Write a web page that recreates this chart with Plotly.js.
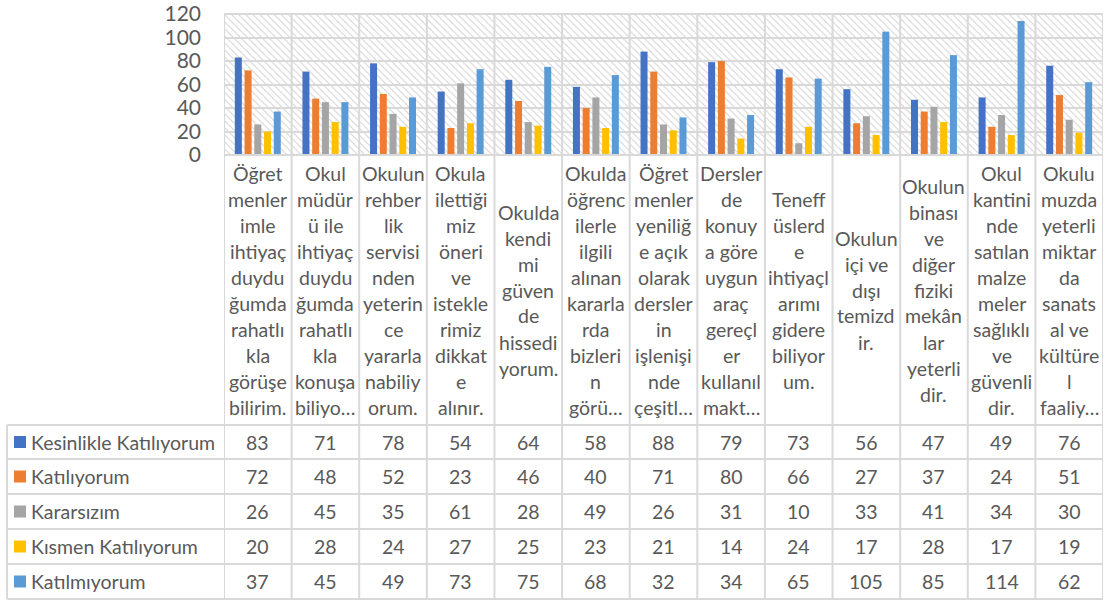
<!DOCTYPE html>
<html><head><meta charset="utf-8">
<script src="https://cdn.plot.ly/plotly-3.0.1.min.js"></script>
<style>html,body{margin:0;padding:0;background:#fff;overflow:hidden}</style>
</head><body><div id="chart" style="width:1114px;height:605px"></div>
<script>
// ---- data ----
const categories = [
  "Öğret<br>menler<br>imle<br>ihtiyaç<br>duydu<br>ğumda<br>rahatlı<br>kla<br>görüşe<br>bilirim.",
  "Okul<br>müdür<br>ü ile<br>ihtiyaç<br>duydu<br>ğumda<br>rahatlı<br>kla<br>konuşa<br>biliyo…",
  "Okulun<br>rehber<br>lik<br>servisi<br>nden<br>yeterin<br>ce<br>yararla<br>nabiliy<br>orum.",
  "Okula<br>ilettiği<br>miz<br>öneri<br>ve<br>istekle<br>rimiz<br>dikkat<br>e<br>alınır.",
  "Okulda<br>kendi<br>mi<br>güven<br>de<br>hissedi<br>yorum.",
  "Okulda<br>öğrenc<br>ilerle<br>ilgili<br>alınan<br>kararla<br>rda<br>bizleri<br>n<br>görü…",
  "Öğret<br>menler<br>yeniliğ<br>e açık<br>olarak<br>dersler<br>in<br>işlenişi<br>nde<br>çeşitl…",
  "Dersler<br>de<br>konuy<br>a göre<br>uygun<br>araç<br>gereçl<br>er<br>kullanıl<br>makt…",
  "Teneff<br>üslerd<br>e<br>ihtiyaçl<br>arımı<br>gidere<br>biliyor<br>um.",
  "Okulun<br>içi ve<br>dışı<br>temizd<br>ir.",
  "Okulun<br>binası<br>ve<br>diğer<br>fiziki<br>mekân<br>lar<br>yeterli<br>dir.",
  "Okul<br>kantini<br>nde<br>satılan<br>malze<br>meler<br>sağlıklı<br>ve<br>güvenli<br>dir.",
  "Okulu<br>muzda<br>yeterli<br>miktar<br>da<br>sanats<br>al ve<br>kültüre<br>l<br>faaliy…"
];
const seriesNames = ["Kesinlikle Katılıyorum", "Katılıyorum", "Kararsızım", "Kısmen Katılıyorum", "Katılmıyorum"];
const kesinlikleKatiliyorum = [83, 71, 78, 54, 64, 58, 88, 79, 73, 56, 47, 49, 76];
const katiliyorum          = [72, 48, 52, 23, 46, 40, 71, 80, 66, 27, 37, 24, 51];
const kararsizim           = [26, 45, 35, 61, 28, 49, 26, 31, 10, 33, 41, 34, 30];
const kismenKatiliyorum    = [20, 28, 24, 27, 25, 23, 21, 14, 24, 17, 28, 17, 19];
const katilmiyorum         = [37, 45, 49, 73, 75, 68, 32, 34, 65, 105, 85, 114, 62];
const yTickValues = [0, 20, 40, 60, 80, 100, 120];

// ---- style / layout ----
const seriesValues = [kesinlikleKatiliyorum, katiliyorum, kararsizim, kismenKatiliyorum, katilmiyorum];
const colors = ["#4472C4", "#ED7D31", "#A5A5A5", "#FFC000", "#5B9BD5"];
const FONT = "Lato, 'Open Sans', sans-serif";
const TXT = "#595959";
const GRID = "#d9d9d9";
const L = 224, R = 1103, T = 14, B = 155;
const labelBottom = 425;
const rowLines = [425, 459, 494, 529, 564, 599];
const tableLeft = 7;
const lineStep = 26;
const py = p => (B - p) / (B - T);
const px = p => (p - L) / (R - L);
const yMax = yTickValues[yTickValues.length - 1];

const traces = [];
// hatched plot background (decoration, subplot 1)
traces.push({
  type: 'bar', x: categories, y: categories.map(() => yMax), width: 1,
  xaxis: 'x', yaxis: 'y', showlegend: false, hoverinfo: 'skip',
  marker: { color: '#ffffff', line: { width: 0 },
    pattern: { shape: '\\', fgcolor: '#d2d2d2', bgcolor: '#ffffff', size: 5, solidity: 0.2, fillmode: 'replace' } }
});
seriesNames.forEach((n, s) => {
  traces.push({
    type: 'bar', name: n, x: categories, y: seriesValues[s],
    xaxis: 'x2', yaxis: 'y2', showlegend: false,
    marker: { color: colors[s], line: { width: 0 } }
  });
});

const shapes = [];
const annotations = [];
for (let k = 0; k <= categories.length; k++) {
  shapes.push({ type: 'line', xref: 'x2', yref: 'paper', x0: k - 0.5, x1: k - 0.5,
    y0: py(T), y1: py(rowLines[rowLines.length - 1]), line: { color: GRID, width: 2 }, layer: 'above' });
}
[T, B].forEach(p => shapes.push({ type: 'line', xref: 'paper', yref: 'paper', x0: 0, x1: 1,
  y0: py(p), y1: py(p), line: { color: GRID, width: 2 }, layer: 'above' }));
rowLines.forEach(p => shapes.push({ type: 'line', xref: 'paper', yref: 'paper', x0: px(tableLeft), x1: 1,
  y0: py(p), y1: py(p), line: { color: GRID, width: 2 }, layer: 'above' }));
shapes.push({ type: 'line', xref: 'paper', yref: 'paper', x0: px(tableLeft), x1: px(tableLeft),
  y0: py(rowLines[0]), y1: py(rowLines[rowLines.length - 1]), line: { color: GRID, width: 2 }, layer: 'above' });

const labelCenter = (B + labelBottom) / 2;
categories.forEach((c, i) => {
  const lines = c.split('<br>');
  lines.forEach((ln, j) => {
    annotations.push({ xref: 'x2', yref: 'paper', x: i, y: py(labelCenter + (j - (lines.length - 1) / 2) * lineStep),
      text: ln, showarrow: false, xanchor: 'center', yanchor: 'middle',
      font: { family: FONT, size: 19.5, color: TXT } });
  });
});
seriesNames.forEach((n, s) => {
  const cy = (rowLines[s] + rowLines[s + 1]) / 2;
  shapes.push({ type: 'rect', xref: 'paper', yref: 'paper', x0: px(14), x1: px(26),
    y0: py(cy + 6), y1: py(cy - 6), fillcolor: colors[s], line: { width: 0 }, layer: 'above' });
  annotations.push({ xref: 'paper', yref: 'paper', x: px(29), y: py(cy), text: n, showarrow: false,
    xanchor: 'left', yanchor: 'middle', font: { family: FONT, size: 19.5, color: TXT } });
  seriesValues[s].forEach((v, i) => {
    annotations.push({ xref: 'x2', yref: 'paper', x: i, y: py(cy), text: String(v), showarrow: false,
      xanchor: 'center', yanchor: 'middle', font: { family: FONT, size: 19.5, color: TXT } });
  });
});

const layout = {
  width: 1114, height: 605,
  margin: { l: L, r: 1114 - R, t: T, b: 605 - B, pad: 0 },
  paper_bgcolor: '#ffffff', plot_bgcolor: 'rgba(0,0,0,0)',
  barmode: 'group', bargap: 0.28, bargroupgap: 0.28,
  showlegend: false,
  font: { family: FONT, color: TXT },
  xaxis: { visible: false, type: 'category', range: [-0.5, categories.length - 0.5], domain: [0, 1], anchor: 'y' },
  yaxis: { visible: false, range: [0, yMax], domain: [0, 1], anchor: 'x' },
  xaxis2: { type: 'category', range: [-0.5, categories.length - 0.5], domain: [0, 1], anchor: 'y2',
    showticklabels: false, showgrid: false, zeroline: false, showline: false, ticks: '' },
  yaxis2: { range: [0, yMax], domain: [0, 1], anchor: 'x2', tickvals: yTickValues,
    showgrid: true, gridcolor: GRID, gridwidth: 2, zeroline: false, showline: false, ticks: '',
    ticklabelstandoff: 22, tickfont: { family: FONT, size: 21, color: TXT } },
  shapes: shapes, annotations: annotations
};
Plotly.newPlot('chart', traces, layout, { displayModeBar: false, staticPlot: true });
</script></body></html>
